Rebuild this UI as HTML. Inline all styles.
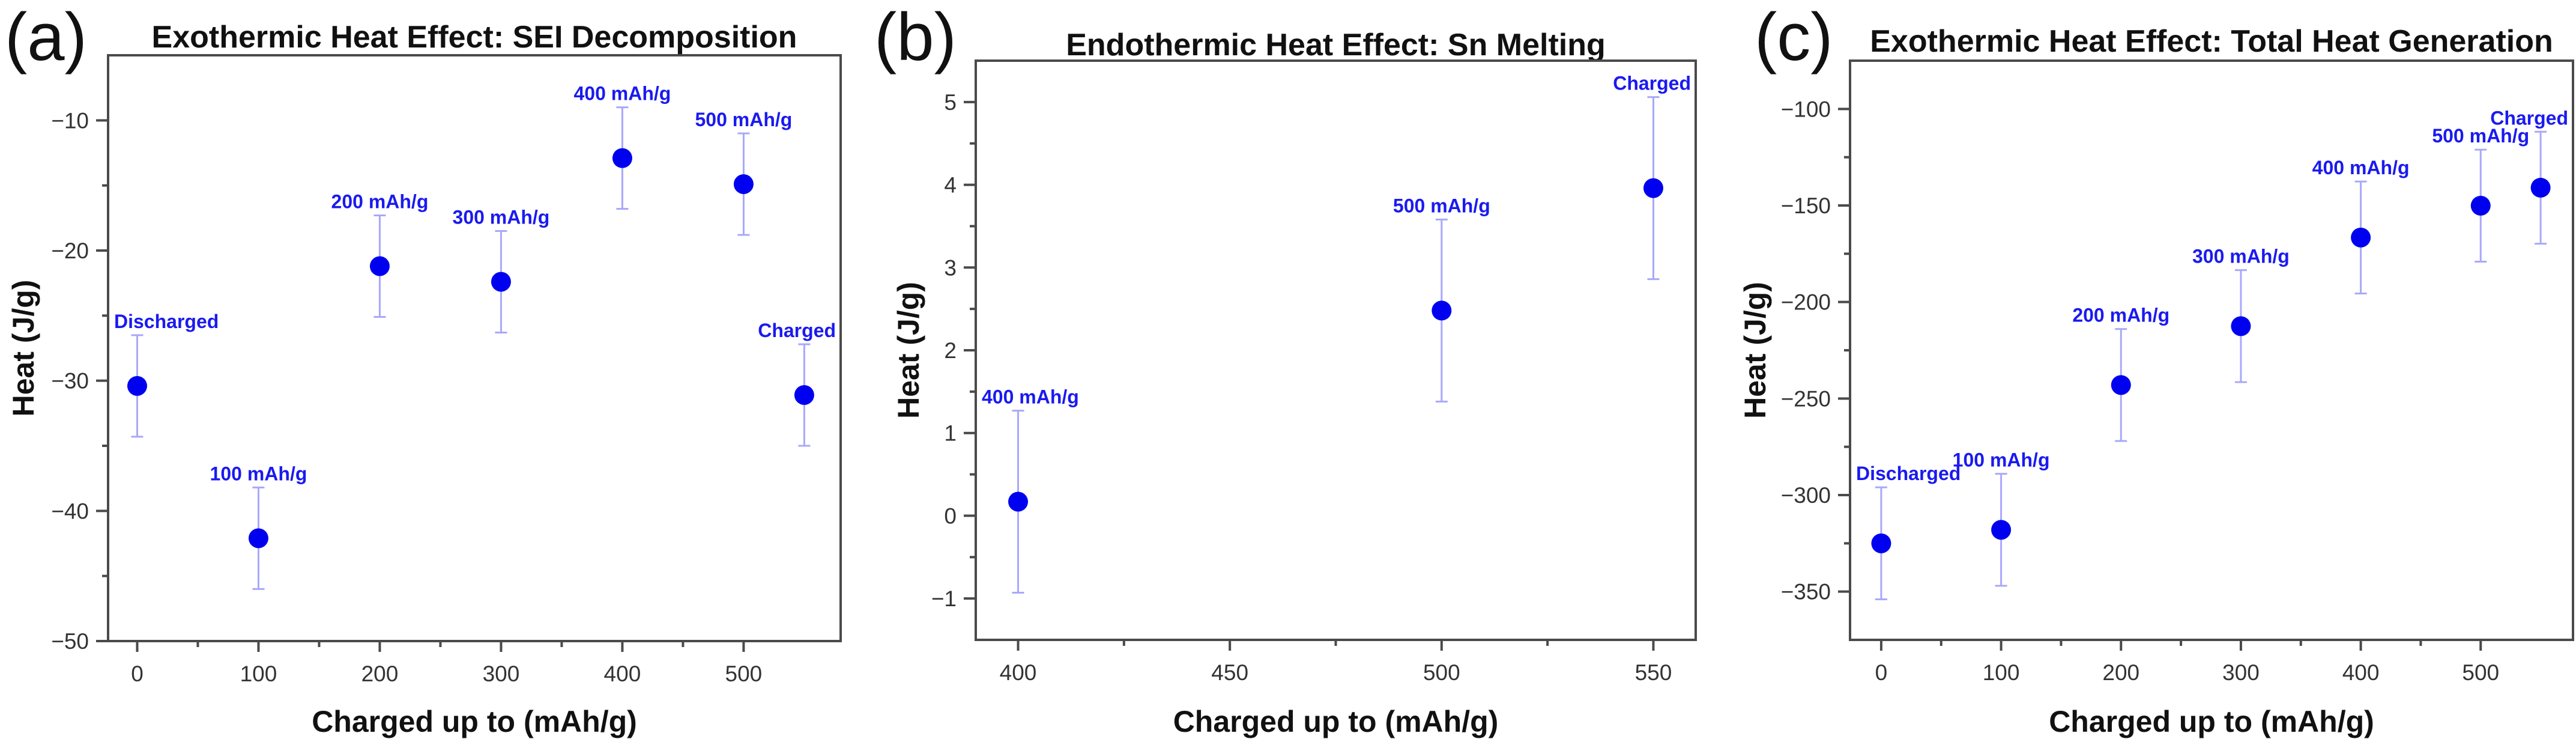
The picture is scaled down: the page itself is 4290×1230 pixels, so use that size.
<!DOCTYPE html>
<html><head><meta charset="utf-8"><style>
html,body{margin:0;padding:0;background:#fff;}
svg{display:block;font-family:"Liberation Sans",Arial,sans-serif;}
</style></head><body>
<svg id="fig" width="4290" height="1230" viewBox="0 0 4290 1230" xmlns="http://www.w3.org/2000/svg"></svg>
<script>
// Panel (a) data
const aX = [0, 100, 200, 300, 400, 500, 550];
const aY = [-30.4, -42.1, -21.2, -22.4, -12.9, -14.9, -31.1];
const aErr = [3.9, 3.9, 3.9, 3.9, 3.9, 3.9, 3.9];
const aLabels = ["Discharged", "100 mAh/g", "200 mAh/g", "300 mAh/g", "400 mAh/g", "500 mAh/g", "Charged"];
const aXTicks = [0, 100, 200, 300, 400, 500];
const aYTicks = [-50, -40, -30, -20, -10];
// Panel (b) data
const bX = [400, 500, 550];
const bY = [0.17, 2.48, 3.96];
const bErr = [1.1, 1.1, 1.1];
const bLabels = ["400 mAh/g", "500 mAh/g", "Charged"];
const bXTicks = [400, 450, 500, 550];
const bYTicks = [-1, 0, 1, 2, 3, 4, 5];
// Panel (c) data
const cX = [0, 100, 200, 300, 400, 500, 550];
const cY = [-325, -318, -243, -212.5, -166.6, -150.1, -140.8];
const cErr = [29, 29, 29, 29, 29, 29, 29];
const cLabels = ["Discharged", "100 mAh/g", "200 mAh/g", "300 mAh/g", "400 mAh/g", "500 mAh/g", "Charged"];
const cXTicks = [0, 100, 200, 300, 400, 500];
const cYTicks = [-350, -300, -250, -200, -150, -100];

const NS = "http://www.w3.org/2000/svg";
const svg = document.getElementById("fig");
function mk(tag, attrs, parent) {
  const e = document.createElementNS(NS, tag);
  for (const k in attrs) e.setAttribute(k, attrs[k]);
  (parent || svg).appendChild(e);
  return e;
}
function fmt(v) { return v < 0 ? "\u2212" + Math.abs(v) : String(v); }

function panel(cfg, xs, ys, errs, labels, xticks, yticks) {
  const g = mk("g", {});
  
  
  const L = cfg.L, R = cfg.R, T = cfg.T, B = cfg.B;
  const sx = v => L + (v - cfg.x0) / (cfg.x1 - cfg.x0) * (R - L);
  const sy = v => B - (v - cfg.y0) / (cfg.y1 - cfg.y0) * (B - T);
  const let_ = mk("text", {x: cfg.letterX, y: 100, "font-size": 112, fill: "#111"}, g);
  let_.textContent = cfg.letter;
  
  
  const t = mk("text", {x: (L + R) / 2, y: cfg.titleY, "font-size": 52, "font-weight": "bold", "text-anchor": "middle", fill: "#111"}, g);
  t.textContent = cfg.title;
  
  
  const fr = mk("rect", {x: L, y: T, width: R - L, height: B - T, fill: "none", stroke: "#4a4a4a", "stroke-width": 4}, g);
  
  
  xticks.forEach((v, i) => {
    const x = sx(v);
    const tk = mk("line", {x1: x, x2: x, y1: B, y2: B + 18, stroke: "#4a4a4a", "stroke-width": 4}, g);
    
    
    const lb = mk("text", {x: x, y: B + 67, "font-size": 37, "text-anchor": "middle", fill: "#333"}, g);
    lb.textContent = fmt(v);
    
    
    if (i < xticks.length - 1) {
      const mv = (v + xticks[i + 1]) / 2;
      const mt = mk("line", {x1: sx(mv), x2: sx(mv), y1: B, y2: B + 10, stroke: "#4a4a4a", "stroke-width": 4}, g);
      
      
    }
  });
  yticks.forEach((v, i) => {
    const y = sy(v);
    const tk = mk("line", {x1: L - 20, x2: L, y1: y, y2: y, stroke: "#4a4a4a", "stroke-width": 4}, g);
    
    
    const lb = mk("text", {x: L - 32, y: y + 13, "font-size": 37, "text-anchor": "end", fill: "#333"}, g);
    lb.textContent = fmt(v);
    
    
    const step = yticks.length > 1 ? yticks[1] - yticks[0] : 1;
    const mv = v + step / 2;
    if (mv < cfg.y1) {
      const mt = mk("line", {x1: L - 10, x2: L, y1: sy(mv), y2: sy(mv), stroke: "#4a4a4a", "stroke-width": 4}, g);
      
      
    }
    if (i === 0 && v - step / 2 > cfg.y0) {
      const mt2 = mk("line", {x1: L - 10, x2: L, y1: sy(v - step / 2), y2: sy(v - step / 2), stroke: "#4a4a4a", "stroke-width": 4}, g);
      
      
    }
  });
  const xt = mk("text", {x: (L + R) / 2, y: 1218, "font-size": 50, "font-weight": "bold", "text-anchor": "middle", fill: "#111"}, g);
  xt.textContent = "Charged up to (mAh/g)";
  
  
  const yt = mk("text", {x: 0, y: 0, "font-size": 50, "font-weight": "bold", "text-anchor": "middle", fill: "#111", transform: "translate(" + cfg.yTitleX + "," + ((T + B) / 2) + ") rotate(-90)"}, g);
  yt.textContent = "Heat (J/g)";
  
  
  xs.forEach((xv, i) => {
    const x = sx(xv), y = sy(ys[i]), yt1 = sy(ys[i] + errs[i]), yb = sy(ys[i] - errs[i]);
    const eb = mk("path", {d: "M" + x + " " + yt1 + "V" + yb + "M" + (x - 10) + " " + yt1 + "H" + (x + 10) + "M" + (x - 10) + " " + yb + "H" + (x + 10), stroke: "#a8a8fb", "stroke-width": 3, fill: "none"}, g);
    
    
    const c = mk("circle", {cx: x, cy: y, r: 16.5, fill: "#0000f0"}, g);
    
    
    const lbl = mk("text", {x: x, y: yt1 - 12, "font-size": 32, "font-weight": "bold", "text-anchor": "middle", fill: "#1a1af0"}, g);
    lbl.textContent = labels[i];
    
    
    const w = lbl.getComputedTextLength ? lbl.getComputedTextLength() : 150;
    let cx = x;
    if (cx - w / 2 < L + 10) cx = L + 10 + w / 2;
    if (cx + w / 2 > R - 8) cx = R - 8 - w / 2;
    lbl.setAttribute("x", cx);
  });
}

panel({name: "panel-a-sei-decomposition", letter: "(a)", letterX: 8, title: "Exothermic Heat Effect: SEI Decomposition", titleY: 79,
  L: 180, R: 1400, T: 92, B: 1067, x0: -24, x1: 580, y0: -50, y1: -5, yTitleX: 56},
  aX, aY, aErr, aLabels, aXTicks, aYTicks);
panel({name: "panel-b-sn-melting", letter: "(b)", letterX: 1456, title: "Endothermic Heat Effect: Sn Melting", titleY: 92,
  L: 1625, R: 2824, T: 101, B: 1065, x0: 390, x1: 560, y0: -1.5, y1: 5.5, yTitleX: 1530},
  bX, bY, bErr, bLabels, bXTicks, bYTicks);
panel({name: "panel-c-total-heat", letter: "(c)", letterX: 2922, title: "Exothermic Heat Effect: Total Heat Generation", titleY: 86,
  L: 3081, R: 4285, T: 101, B: 1065, x0: -26, x1: 577, y0: -375, y1: -75, yTitleX: 2940},
  cX, cY, cErr, cLabels, cXTicks, cYTicks);
</script>
</body></html>
